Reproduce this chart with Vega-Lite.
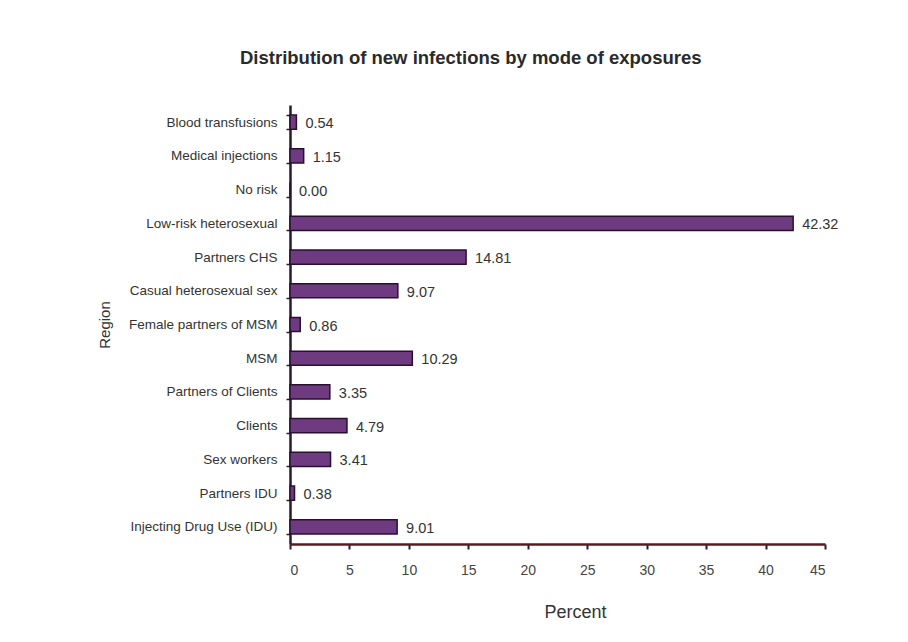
{
  "$schema": "https://vega.github.io/schema/vega-lite/v6.json",
  "autosize": "none",
  "width": 535,
  "height": 439,
  "padding": {"left": 290, "top": 105, "right": 83, "bottom": 98},
  "background": "white",
  "title": {
    "text": "Distribution of new infections by mode of exposures",
    "anchor": "start",
    "frame": "group",
    "dx": -50,
    "offset": 31,
    "font": "Liberation Sans",
    "fontSize": 18.5,
    "fontWeight": "bold",
    "color": "#2a2a2a"
  },
  "data": {
    "values": [
      {"mode": "Blood transfusions", "percent": 0.54, "label": "0.54"},
      {"mode": "Medical injections", "percent": 1.15, "label": "1.15"},
      {"mode": "No risk", "percent": 0.0, "label": "0.00"},
      {"mode": "Low-risk heterosexual", "percent": 42.32, "label": "42.32"},
      {"mode": "Partners CHS", "percent": 14.81, "label": "14.81"},
      {"mode": "Casual heterosexual sex", "percent": 9.07, "label": "9.07"},
      {"mode": "Female partners of MSM", "percent": 0.86, "label": "0.86"},
      {"mode": "MSM", "percent": 10.29, "label": "10.29"},
      {"mode": "Partners of Clients", "percent": 3.35, "label": "3.35"},
      {"mode": "Clients", "percent": 4.79, "label": "4.79"},
      {"mode": "Sex workers", "percent": 3.41, "label": "3.41"},
      {"mode": "Partners IDU", "percent": 0.38, "label": "0.38"},
      {"mode": "Injecting Drug Use (IDU)", "percent": 9.01, "label": "9.01"}
    ]
  },
  "encoding": {
    "y": {
      "field": "mode",
      "type": "nominal",
      "sort": null,
      "scale": {"paddingInner": 0.58, "paddingOuter": 0.3},
      "axis": {
        "title": "Region",
        "titleFont": "Liberation Sans",
        "titleFontSize": 15,
        "titleFontWeight": "normal",
        "titleColor": "#333",
        "titlePadding": 16,
        "labelFont": "Liberation Sans",
        "labelFontSize": 13.5,
        "labelColor": "#333",
        "labelPadding": 9,
        "tickBand": "extent",
        "tickSize": 4,
        "tickColor": "#2a1a2a",
        "tickWidth": 1.5,
        "domainColor": "#2a1a2a",
        "domainWidth": 2.5
      }
    },
    "x": {
      "field": "percent",
      "type": "quantitative",
      "scale": {"domain": [0, 45], "nice": false},
      "axis": {
        "title": "Percent",
        "values": [0, 5, 10, 15, 20, 25, 30, 35, 40, 45],
        "grid": false,
        "titleFont": "Liberation Sans",
        "titleFontSize": 18,
        "titleFontWeight": "normal",
        "titleColor": "#333",
        "titlePadding": 26,
        "titleX": 285,
        "labelFont": "Liberation Sans",
        "labelFontSize": 14,
        "labelColor": "#444",
        "labelPadding": 14,
        "tickSize": 5,
        "tickWidth": 2,
        "tickColor": "#2a1a2a",
        "domainColor": "#5a1a20",
        "domainWidth": 2.5
      }
    }
  },
  "layer": [
    {
      "mark": {"type": "bar", "color": "#6e3a80", "stroke": "#2a1030", "strokeWidth": 1.5}
    },
    {
      "mark": {"type": "text", "align": "left", "dx": 9, "dy": 2, "font": "Liberation Sans", "fontSize": 14.5, "color": "#333"},
      "encoding": {"text": {"field": "label"}}
    }
  ],
  "config": {"view": {"stroke": null}}
}
